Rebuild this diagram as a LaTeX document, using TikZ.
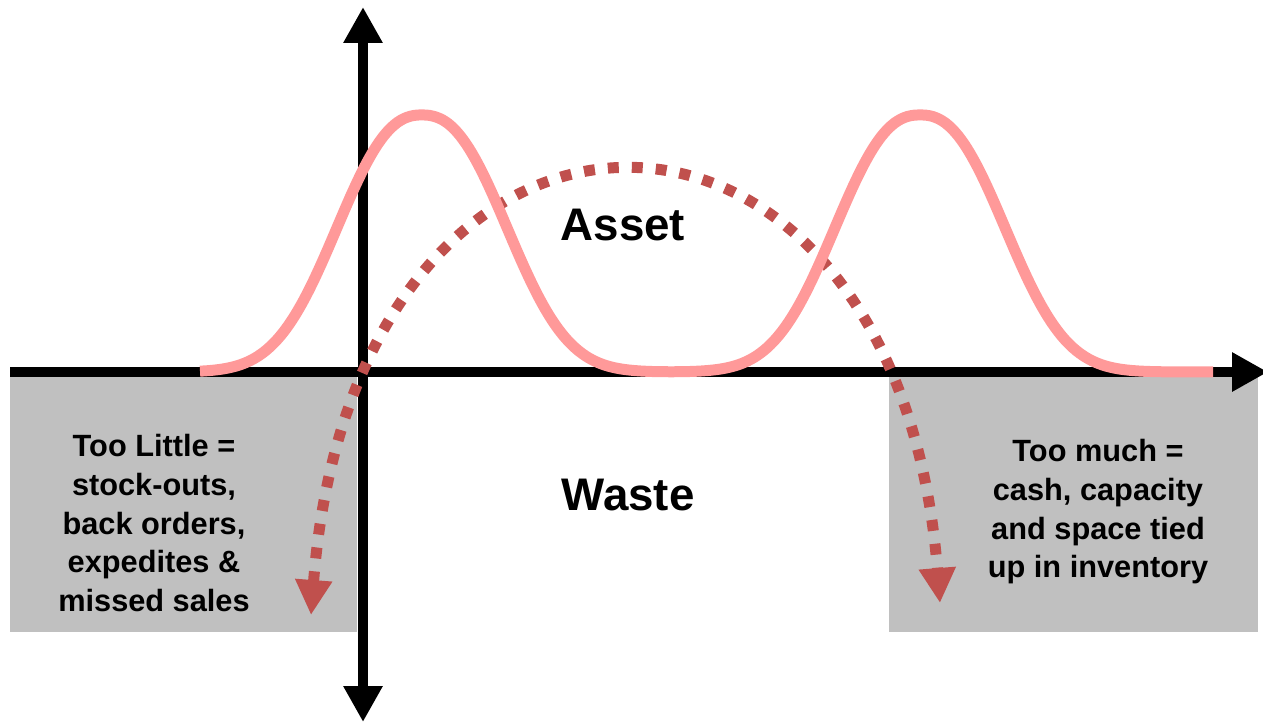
\documentclass[tikz,border=0pt]{standalone}
\usepackage{fontspec}
\setmainfont{Liberation Sans}
\usetikzlibrary{arrows.meta}
\definecolor{boxgray}{HTML}{C0C0C0}
\definecolor{cBump}{HTML}{FF9999}
\definecolor{cSwing}{HTML}{C0504D}
\tikzset{
  zone/.style    = {fill=boxgray, draw=none},
  axis/.style    = {line width=0.2cm, draw=black},
  axtip/.style   = {-{Triangle[length=0.72cm, width=0.74cm]}},
  axboth/.style  = {{Triangle[length=0.72cm, width=0.74cm]}-{Triangle[length=0.72cm, width=0.74cm]}},
  bump/.style    = {draw=cBump, line width=0.22cm, line cap=butt},
  swing/.style   = {draw=cSwing, line width=0.22cm, dash pattern=on 0.22cm off 0.26cm,
                    {Triangle[length=0.7cm, width=0.7cm]}-{Triangle[length=0.7cm, width=0.7cm]}},
  bigword/.style = {font=\fontsize{26}{30}\selectfont\bfseries, text=black, inner sep=0pt},
  sidenote/.style= {font=\fontsize{17.5}{22}\selectfont\bfseries, text=black, align=center, inner sep=0pt},
}
\begin{document}
\begin{tikzpicture}[x=0.02cm, y=-0.02cm,
    declare function={hump(\t)=exp(-min(pow(abs(\t)/107+0.001,2.4),9));}]
  \useasboundingbox (0,0) rectangle (1263,724);

  % shortage and surplus zones
  \fill[zone] (10,377) rectangle (357,632);
  \fill[zone] (889,377) rectangle (1258,632);

  % axes
  \draw[axis, axtip] (10,372) -- (1268,372);
  \draw[axis, axboth] (363,722) -- (363,7);

  % swing between the two zones
  \draw[swing] (311,615) .. controls (356,31) and (895,31) .. (940,603);

  % inventory level
  \draw[bump] plot[domain=200:1213, samples=160, smooth]
    (\x, {372-257*(hump(\x-422)+hump(\x-920))});

  \node[bigword] (asset) at (623,225) {Asset};
  \node[bigword] (waste) at (628,495) {Waste};
  \node[sidenote] (little) at (154,523) {Too Little =\\stock-outs,\\back orders,\\expedites \&\\missed sales};
  \node[sidenote] (much) at (1098,512) {Too much =\\cash, capacity\\and space tied\\up in inventory};
\end{tikzpicture}
\end{document}
